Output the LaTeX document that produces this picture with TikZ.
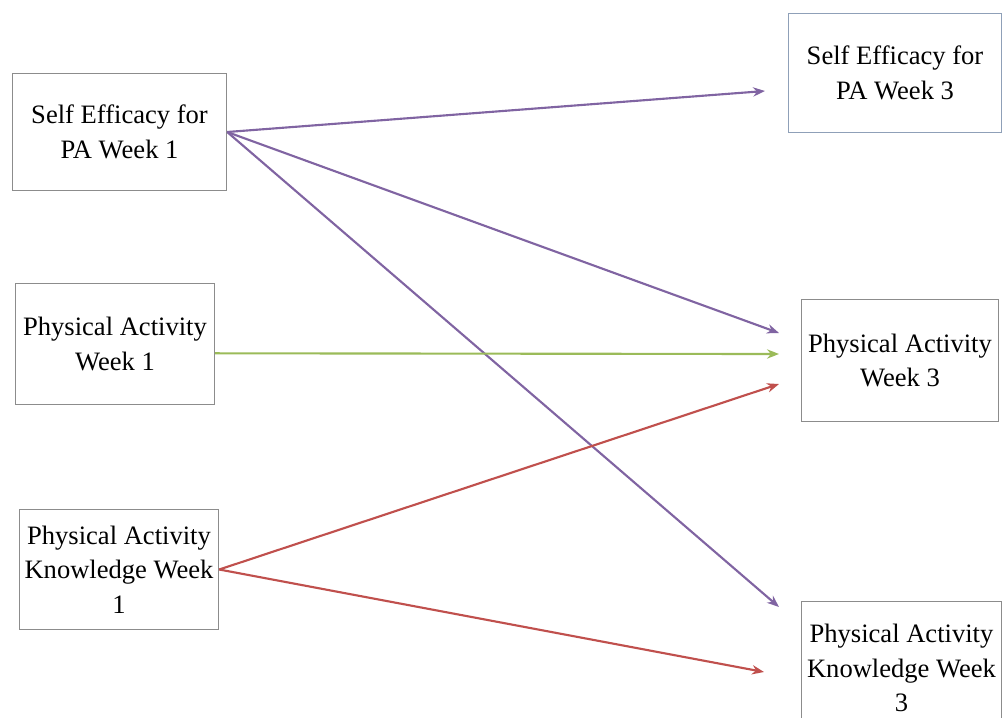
\documentclass[tikz,border=0pt]{standalone}
\usepackage{fontspec}
\setmainfont{Liberation Serif}
\newfontfamily\boxfont{Liberation Serif}
\usepackage{tikz}
\usetikzlibrary{arrows.meta}
\usepackage{xcolor}
\definecolor{pathpurple}{HTML}{8064A2}
\definecolor{pathgreen}{HTML}{9BBB59}
\definecolor{pathred}{HTML}{C0504D}
\definecolor{boxline}{HTML}{8C8C8C}
\definecolor{boxblue}{HTML}{8FA0B8}
\tikzset{
  varbox/.style={draw=boxline, line width=0.9pt, fill=white, align=center,
    inner sep=0pt, font=\boxfont\fontsize{20}{26}\selectfont},
  path link/.style={line width=1.6pt, -{Stealth[length=9pt,width=7pt]}}
}

\begin{document}
\begin{tikzpicture}[x=0.02646cm, y=-0.02646cm]
    \useasboundingbox (0,0) rectangle (1003,717);
    % week 1
    \node[varbox, minimum width=215*0.75pt, minimum height=118*0.75pt] (se1) at (119.5,132) {Self Efficacy for\\PA Week 1};
    \node[varbox, minimum width=200*0.75pt, minimum height=122*0.75pt] (pa1) at (115,344) {Physical Activity\\Week 1};
    \node[varbox, minimum width=200*0.75pt, minimum height=121*0.75pt] (pak1) at (119,569.5) {Physical Activity\\Knowledge Week\\1};
    % week 3
    \node[varbox, draw=boxblue, minimum width=214*0.75pt, minimum height=120*0.75pt] (se3) at (895,73) {Self Efficacy for\\PA Week 3};
    \node[varbox, minimum width=198*0.75pt, minimum height=123*0.75pt] (pa3) at (900,360.5) {Physical Activity\\Week 3};
    \node[varbox, minimum width=201*0.75pt, minimum height=134*0.75pt] (pak3) at (901.5,668) {Physical Activity\\Knowledge Week\\3};
    % arrow ends
    \coordinate (se3in) at (765,91);
    \coordinate (pa3inA) at (779,333);
    \coordinate (pa3inB) at (779,354);
    \coordinate (pa3inC) at (779,384);
    \coordinate (pak3inA) at (779,607);
    \coordinate (pak3inB) at (764,672);
    % paths
    \draw[path link, pathpurple] (se1.east) -- (se3in);
    \draw[path link, pathpurple] (se1.east) -- (pa3inA);
    \draw[path link, pathpurple] (se1.east) -- (pak3inA);
    \draw[path link, pathgreen] ([yshift=-7pt]pa1.east) -- (pa3inB);
    \draw[path link, pathred] (pak1.east) -- (pa3inC);
    \draw[path link, pathred] (pak1.east) -- (pak3inB);
\end{tikzpicture}
\end{document}
